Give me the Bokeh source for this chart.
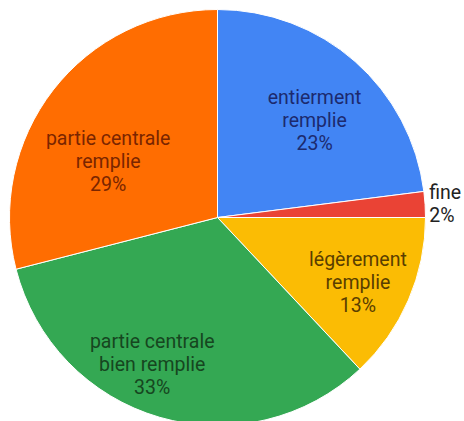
import math
from bokeh.plotting import figure
from bokeh.models import ColumnDataSource, Range1d
from bokeh.core.properties import value
from bokeh.embed import file_html
from bokeh.resources import INLINE

# data
categories = ["entierment\nremplie", "fine", "légèrement\nremplie",
              "partie centrale\nbien remplie", "partie centrale\nremplie"]
shares = [23, 2, 13, 33, 29]

# style / layout
colors = ["#4285F4", "#EA4335", "#FBBC04", "#34A853", "#FF6D01"]
text_colors = ["#1c2a6e", "#222222", "#5a3e00", "#16461f", "#7a2500"]
label_r = [0.66, 1.02, 0.745, 0.775, 0.59]
label_da = [3.6, 0.0, 1.6, 7.7, -10.8]   # degrees clockwise tweak
label_align = ["center", "left", "center", "center", "center"]

W, H = 464, 421
cx, cy, R = 217, 204, 208

total = float(sum(shares))
starts, ends, lx, ly, texts = [], [], [], [], []
cum = 0.0
for i, s in enumerate(shares):
    a0 = cum / total
    cum += s
    a1 = cum / total
    starts.append(math.pi / 2 - a1 * 2 * math.pi)
    ends.append(math.pi / 2 - a0 * 2 * math.pi)
    mid_cw = (a0 + a1) / 2 * 360 + label_da[i]
    ang = math.radians(90 - mid_cw)
    lx.append(cx + label_r[i] * R * math.cos(ang))
    ly.append(cy + label_r[i] * R * math.sin(ang))
    texts.append(f"{categories[i]}\n{s}%")

src = ColumnDataSource(dict(start=starts, end=ends, color=colors,
                            x=lx, y=ly, text=texts, tcolor=text_colors,
                            align=label_align))

p = figure(width=W, height=H, output_backend="svg", toolbar_location=None,
           x_range=Range1d(0, W), y_range=Range1d(0, H),
           min_border=0)
p.axis.visible = False
p.grid.visible = False
p.outline_line_color = None
p.background_fill_color = "white"

p.wedge(x=cx, y=cy, radius=R, start_angle="start", end_angle="end",
        fill_color="color", line_color="white", line_width=1, source=src)

p.text(x="x", y="y", text="text", text_color="tcolor", text_align="align",
       text_baseline="middle", text_font=value("Roboto"), text_font_size="19.5px",
       text_line_height=1.0, source=src)

open("out.html", "w").write(file_html(p, INLINE))
